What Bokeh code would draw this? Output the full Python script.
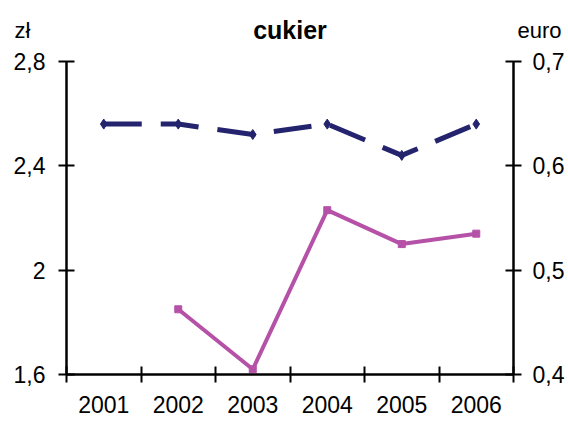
from bokeh.plotting import figure
from bokeh.layouts import column
from bokeh.models import Range1d, LinearAxis, FixedTicker
from bokeh.core.properties import value
from bokeh.embed import file_html
from bokeh.resources import INLINE

# ---- data ----
years = [2001, 2002, 2003, 2004, 2005, 2006]
year_labels = ["2001", "2002", "2003", "2004", "2005", "2006"]
pln_years = [2002, 2003, 2004, 2005, 2006]
pln_values = [1.85, 1.62, 2.23, 2.10, 2.14]          # solid, left axis (zł)
eur_values = [0.64, 0.64, 0.63, 0.64, 0.61, 0.64]    # dashed, right axis (euro)
left_ticks = [1.6, 2.0, 2.4, 2.8]
left_labels = ["1,6", "2", "2,4", "2,8"]
right_ticks = [0.4, 0.5, 0.6, 0.7]
right_labels = ["0,4", "0,5", "0,6", "0,7"]
title_text = "cukier"
left_unit = "zł"
right_unit = "euro"

FONT = "Liberation Sans"
NAVY = "#23236e"
MAGENTA = "#b552a8"
W = 568
H = 421
TOP_H = 46
BL, BR = 66, 55   # frame borders left/right (shared by both figures)

# ---- header strip (title + unit labels) ----
h = figure(width=W, height=TOP_H, output_backend="svg", toolbar_location=None,
           title=None, x_axis_type=None, y_axis_type=None,
           x_range=Range1d(BL, W - BR), y_range=Range1d(0, TOP_H),
           min_border_left=BL, min_border_right=BR,
           min_border_top=0, min_border_bottom=0)
h.grid.visible = False
h.outline_line_color = None
h.background_fill_color = "white"
h.border_fill_color = "white"

UNIT_Y = TOP_H - 30

def unit_axis(text, standoff):
    ax = LinearAxis(ticker=FixedTicker(ticks=[UNIT_Y]),
                    major_label_overrides={UNIT_Y: text})
    ax.axis_line_color = None
    ax.major_tick_line_color = None
    ax.minor_tick_line_color = None
    ax.major_tick_in = 0
    ax.major_tick_out = 0
    ax.major_label_standoff = standoff
    ax.major_label_text_font = FONT
    ax.major_label_text_font_size = "22px"
    ax.major_label_text_color = "black"
    return ax

h.add_layout(unit_axis(left_unit, 36), "left")
h.add_layout(unit_axis(right_unit, 4), "right")
h.text(x=[(BL + W - BR) / 2], y=[TOP_H - 29.6], text=[title_text], text_align="center",
       text_baseline="middle", text_font=value(FONT), text_font_size="25px",
       text_font_style="bold", text_color="black")

# ---- main chart ----
x_bounds = [years[0] - 0.5 + i for i in range(len(years) + 1)]

p = figure(width=W, height=H - TOP_H, output_backend="svg", toolbar_location=None,
           title=None,
           x_range=Range1d(years[0] - 0.5, years[-1] + 0.5),
           y_range=Range1d(left_ticks[0], left_ticks[-1]),
           min_border_left=BL, min_border_right=BR,
           min_border_top=61 - TOP_H, min_border_bottom=47)
p.extra_y_ranges = {"euro": Range1d(right_ticks[0], right_ticks[-1])}
p.outline_line_color = None
p.background_fill_color = "white"
p.border_fill_color = "white"

# grid: only the top gray line
p.xgrid.visible = False
p.ygrid.ticker = FixedTicker(ticks=[left_ticks[-1]])
p.ygrid.grid_line_color = "#808080"
p.ygrid.grid_line_width = 2

def style_axis(ax):
    ax.axis_line_color = "black"
    ax.axis_line_width = 2.5
    ax.major_tick_line_color = "black"
    ax.major_tick_line_width = 2
    ax.major_tick_in = 8
    ax.major_tick_out = 8
    ax.minor_tick_line_color = None
    ax.major_label_text_font = FONT
    ax.major_label_text_font_size = "23px"
    ax.major_label_text_color = "black"

# x axis
xa = p.xaxis[0]
style_axis(xa)
xa.ticker = FixedTicker(ticks=years, minor_ticks=x_bounds)
xa.major_tick_line_color = None
xa.minor_tick_line_color = "black"
xa.minor_tick_line_width = 2
xa.minor_tick_in = 8
xa.minor_tick_out = 8
xa.major_label_overrides = {y: l for y, l in zip(years, year_labels)}
xa.major_label_standoff = 13

# left axis
ya = p.yaxis[0]
style_axis(ya)
ya.ticker = FixedTicker(ticks=left_ticks)
ya.major_label_overrides = {t: l for t, l in zip(left_ticks, left_labels)}
ya.major_label_standoff = 13

# right axis
ra = LinearAxis(y_range_name="euro")
style_axis(ra)
ra.ticker = FixedTicker(ticks=right_ticks)
ra.major_label_overrides = {t: l for t, l in zip(right_ticks, right_labels)}
ra.major_label_standoff = 11
p.add_layout(ra, "right")

# series
p.line(years, eur_values, y_range_name="euro", line_color=NAVY, line_width=5,
       line_dash="38 19")
p.scatter(years, eur_values, y_range_name="euro", marker="diamond", size=10,
          color=NAVY)
p.line(pln_years, pln_values, line_color=MAGENTA, line_width=4)
p.scatter(pln_years, pln_values, marker="square", size=7, color=MAGENTA)

layout = column(h, p, spacing=0)
open("out.html", "w").write(file_html(layout, INLINE))
